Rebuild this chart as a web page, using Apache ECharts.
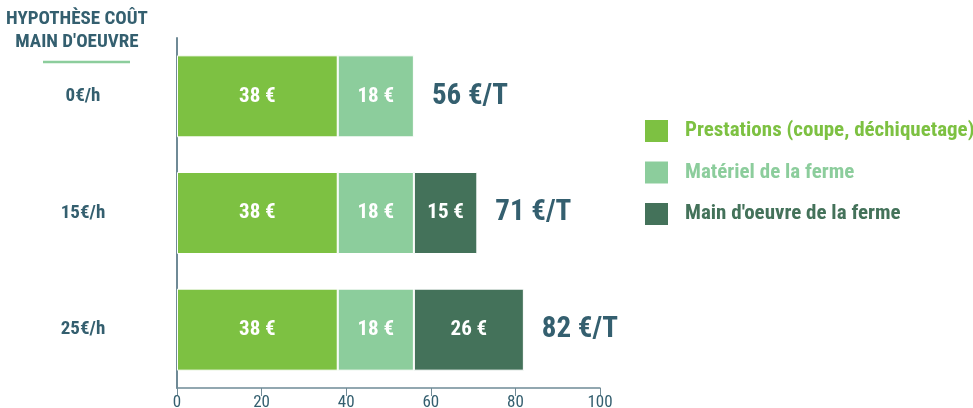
<!DOCTYPE html>
<html><head><meta charset="utf-8">
<script src="https://cdn.jsdelivr.net/npm/echarts@6/dist/echarts.min.js"></script>
<style>html,body{margin:0;padding:0;background:#fff}#c{width:973px;height:408px}</style>
</head><body><div id="c"></div>
<script>
const categories = ['0€/h', '15€/h', '25€/h'];
const seriesNames = ['Prestations (coupe, déchiquetage)', 'Matériel de la ferme', "Main d'oeuvre de la ferme"];
const prestations = [38, 38, 38];
const materiel = [18, 18, 18];
const mainOeuvre = [null, 15, 26];
const xTicks = [0, 20, 40, 60, 80, 100];

const FONT = "'Liberation Sans Narrow', 'Roboto Condensed', 'DejaVu Sans Condensed', Roboto, sans-serif";
const TEAL = '#345f6f';
const colors = ['#7dc142', '#8ccd9c', '#44725a'];
const totals = categories.map((c, i) => (prestations[i] || 0) + (materiel[i] || 0) + (mainOeuvre[i] || 0));

const chart = echarts.init(document.getElementById('c'));
const inLabel = {show: true, position: 'inside', color: '#fff', fontFamily: FONT, fontWeight: 'bold', fontSize: 21,
  formatter: p => p.value == null ? '' : p.value + ' €'};
function barSeries(name, data, color) {
  return {name, type: 'bar', stack: 's', data, barWidth: 82,
    itemStyle: {color, borderColor: '#fff', borderWidth: 1}, label: inLabel, silent: true};
}
chart.setOption({
  animation: false,
  textStyle: {fontFamily: FONT},
  graphic: [
    {type: 'text', left: 6, top: 8, style: {text: 'HYPOTHÈSE COÛT\nMAIN D\'OEUVRE', fill: TEAL, font: 'bold 19px ' + FONT, textAlign: 'center', lineHeight: 23}},
    {type: 'line', shape: {x1: 43, y1: 62, x2: 130, y2: 62}, style: {stroke: '#8ccd9c', lineWidth: 2.5}}
  ],
  legend: {
    orient: 'vertical', left: 638, top: 113, itemWidth: 25, itemHeight: 24, itemGap: 15.5, icon: 'rect',
    textStyle: {fontFamily: FONT, fontWeight: 'bold', fontSize: 21, lineHeight: 24, padding: [0, 0, 0, 11]},
    data: seriesNames.map((n, i) => ({name: n, textStyle: {color: colors[i]}})),
    selectedMode: false
  },
  grid: {left: 177, right: 373, top: 38, bottom: 20, containLabel: false, outerBoundsMode: 'none'},
  xAxis: {type: 'value', min: 0, max: 100, interval: 20,
    axisLine: {show: true, lineStyle: {color: '#6f8a96', width: 1.5}},
    axisTick: {show: true, length: 8, lineStyle: {color: '#6f8a96'}},
    splitLine: {show: false},
    axisLabel: {color: TEAL, fontSize: 17, margin: 6, fontFamily: FONT,
      formatter: v => xTicks.includes(v) ? String(v) : ''}},
  yAxis: {type: 'category', data: categories, inverse: true,
    axisLine: {show: true, lineStyle: {color: '#6f8a96', width: 2}},
    axisTick: {show: false},
    axisLabel: {color: TEAL, fontSize: 19, fontWeight: 'bold', align: 'center', margin: 94, fontFamily: FONT}},
  series: [
    barSeries(seriesNames[0], prestations, colors[0]),
    barSeries(seriesNames[1], materiel, colors[1]),
    barSeries(seriesNames[2], mainOeuvre, colors[2]),
    {name: 'total', type: 'bar', stack: 's', barWidth: 82,
      data: totals.map(() => 0), itemStyle: {color: 'transparent'}, silent: true,
      label: {show: true, position: 'right', distance: 18, color: TEAL, fontFamily: FONT, fontWeight: 'bold', fontSize: 29,
        formatter: p => totals[p.dataIndex] + ' €/T'}}
  ]
});
</script></body></html>
